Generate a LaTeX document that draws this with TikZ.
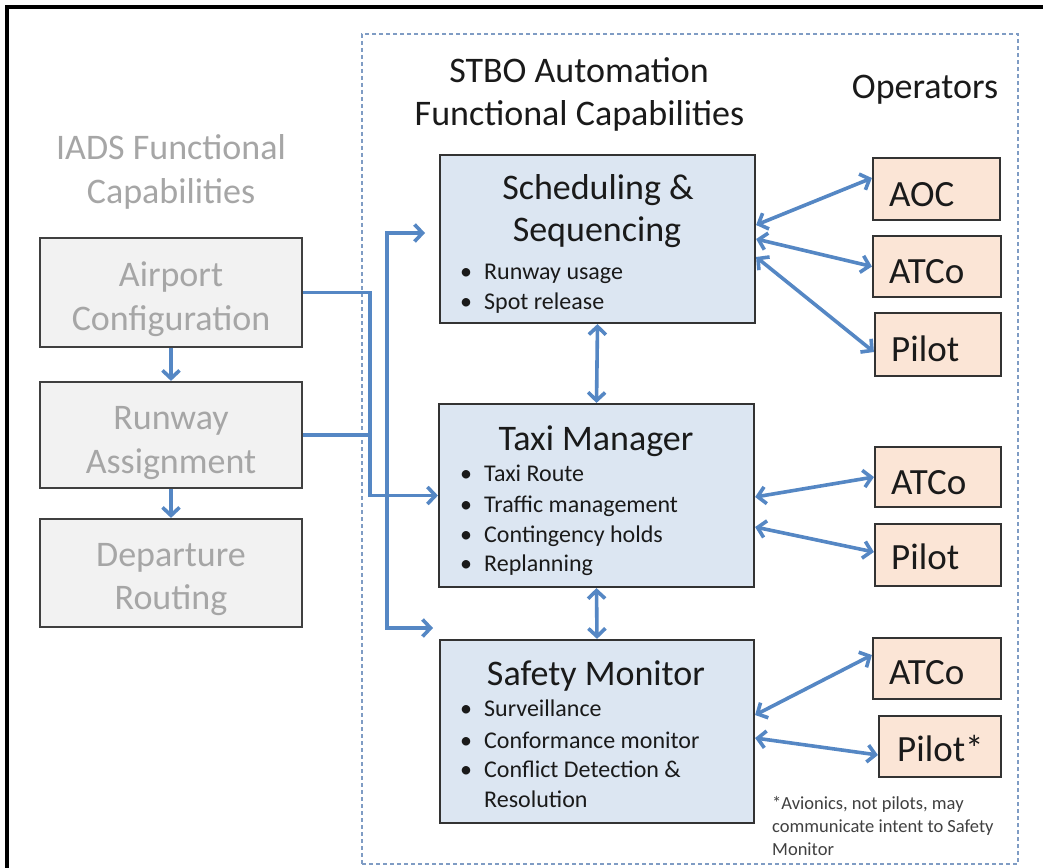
\documentclass[tikz,border=0pt]{standalone}
\usepackage{fontspec}
\setmainfont{Carlito}
\usetikzlibrary{arrows.meta}
\definecolor{arrowblue}{HTML}{5587C4}
\definecolor{boxblue}{HTML}{DCE6F2}
\definecolor{boxpeach}{HTML}{FBE5D6}
\definecolor{boxgray}{HTML}{F2F2F2}
\definecolor{txtgray}{HTML}{A6A6A6}
\definecolor{dashblue}{HTML}{7F9CC4}
\definecolor{txtdark}{HTML}{1A1A1A}
\begin{document}
\begin{tikzpicture}[x=1pt,y=-1pt,
  bigtxt/.style={font=\fontsize{36}{43}\selectfont, text=txtdark, inner sep=0pt},
  graytxt/.style={font=\fontsize{36}{43}\selectfont, text=txtgray, inner sep=0pt},
  bultxt/.style={font=\fontsize{24}{30}\selectfont, text=txtdark, inner sep=0pt, anchor=base west},
  notetxt/.style={font=\fontsize{18.5}{23}\selectfont, text=black!75, inner sep=0pt, anchor=base west},
  optxt/.style={font=\fontsize{37}{43}\selectfont, text=txtdark, inner sep=0pt, anchor=base west},
  bluebox/.style={draw=black!80, line width=2.2pt, fill=boxblue, inner sep=0pt},
  graybox/.style={draw=black!75, line width=2.2pt, fill=boxgray, inner sep=0pt, minimum width=262pt},
  opbox/.style={draw=black!80, line width=2.2pt, fill=boxpeach, inner sep=0pt},
  frame/.style={draw=dashblue, line width=1.4pt, dash pattern=on 4pt off 3pt, inner sep=0pt},
  arr/.style={draw=arrowblue, line width=3.6pt, -{Straight Barb[length=8pt,width=17pt]}},
  darr/.style={draw=arrowblue, line width=3.6pt, {Straight Barb[length=8pt,width=17pt]}-{Straight Barb[length=8pt,width=17pt]}}
]
\useasboundingbox (0,0) rectangle (1043,867);
\fill[white] (0,0) rectangle (1043,867);
% outer border (left and top)
\draw[line width=3.5pt, black] (7,900) -- (7,7) -- (1100,7);

% dashed container
\node[frame, minimum width=656pt, minimum height=830pt] (frm) at (690,449) {};

% left titles
\node[graytxt, anchor=base] (iads1) at (171,159) {IADS Functional};
\node[graytxt, anchor=base] (iads2) at (171,203) {Capabilities};

% gray boxes
\node[graybox, minimum height=109pt] (air) at (171,292.5) {};
\node[graybox, minimum height=106pt] (run) at (171,435) {};
\node[graybox, minimum height=108pt] (dep) at (171,573) {};
\node[graytxt, anchor=base] (air1) at (171,286) {Airport};
\node[graytxt, anchor=base] (air2) at (171,330) {Configuration};
\node[graytxt, anchor=base] (run1) at (171,429) {Runway};
\node[graytxt, anchor=base] (run2) at (171,473) {Assignment};
\node[graytxt, anchor=base] (dep1) at (171,566) {Departure};
\node[graytxt, anchor=base] (dep2) at (171,609) {Routing};

% middle titles
\node[bigtxt, anchor=base] (stbo1) at (579,82) {STBO Automation};
\node[bigtxt, anchor=base] (stbo2) at (579.5,125) {Functional Capabilities};
\node[bigtxt, anchor=base] (opers) at (925,98) {Operators};

% blue boxes
\node[bluebox, minimum width=315pt, minimum height=168pt] (ss) at (597.5,239) {};
\node[bluebox, minimum width=315pt, minimum height=183pt] (taxi) at (596.5,495.5) {};
\node[bluebox, minimum width=314pt, minimum height=183pt] (sm) at (597,731.5) {};

\node[bigtxt, anchor=base] (ss1) at (598,199) {Scheduling \&};
\node[bigtxt, anchor=base] (ss2) at (597,241) {Sequencing};
\node[bultxt] (ssb1) at (460,279) {\makebox[24pt][l]{•}Runway usage};
\node[bultxt] (ssb2) at (460,309) {\makebox[24pt][l]{•}Spot release};

\node[bigtxt, anchor=base] (tm1) at (596,450) {Taxi Manager};
\node[bultxt] (tmb1) at (460,481) {\makebox[24pt][l]{•}Taxi Route};
\node[bultxt] (tmb2) at (460,512) {\makebox[24pt][l]{•}Traffic management};
\node[bultxt] (tmb3) at (460,542) {\makebox[24pt][l]{•}Contingency holds};
\node[bultxt] (tmb4) at (460,571) {\makebox[24pt][l]{•}Replanning};

\node[bigtxt, anchor=base] (sm1) at (596,685) {Safety Monitor};
\node[bultxt] (smb1) at (460,716) {\makebox[24pt][l]{•}Surveillance};
\node[bultxt] (smb2) at (460,748) {\makebox[24pt][l]{•}Conformance monitor};
\node[bultxt] (smb3) at (460,777) {\makebox[24pt][l]{•}Conflict Detection \&};
\node[bultxt] (smb4) at (484,807) {Resolution};

% operator boxes
\node[opbox, minimum width=127pt, minimum height=62pt] (aoc) at (936.5,189) {};
\node[opbox, minimum width=128pt, minimum height=61pt] (atc1) at (937,266.5) {};
\node[opbox, minimum width=126pt, minimum height=63pt] (pil1) at (938,344.5) {};
\node[opbox, minimum width=126pt, minimum height=60pt] (atc2) at (938,477) {};
\node[opbox, minimum width=126pt, minimum height=62pt] (pil2) at (938,555) {};
\node[opbox, minimum width=128pt, minimum height=61pt] (atc3) at (937,668.5) {};
\node[opbox, minimum width=122pt, minimum height=61pt] (pil3) at (940,746.5) {};

\node[optxt] (aoct) at (889,206) {AOC};
\node[optxt] (atc1t) at (889,283) {ATCo};
\node[optxt] (pil1t) at (891,361) {Pilot};
\node[optxt] (atc2t) at (891,494) {ATCo};
\node[optxt] (pil2t) at (891,569) {Pilot};
\node[optxt] (atc3t) at (889,684) {ATCo};
\node[optxt] (pil3t) at (897,761) {Pilot*};

% footnote
\node[notetxt] (fn1) at (772,809) {*Avionics, not pilots, may};
\node[notetxt] (fn2) at (772,832) {communicate intent to Safety};
\node[notetxt] (fn3) at (772,855) {Monitor};

% left column arrows
\draw[arr] (air.south) -- (run.north);
\draw[arr] (run.south) -- (dep.north);

% bus lines
\coordinate (busA) at (370,300);
\coordinate (busB) at (387,430);
\coordinate (tipS) at (425,233);
\coordinate (tipM) at (433,628);
\draw[arrowblue, line width=3.6pt] (run.east) -- (run.east -| busA);
\draw[arr] (air.east) -| (busA |- taxi.west) -- (taxi.west);
\draw[arr] (busB) |- (tipS);
\draw[arr] (busB) |- (tipM);

% vertical double arrows
\draw[darr] (ss.south) -- (taxi.north);
\draw[darr] (taxi.south) -- (sm.north);

% operator arrows
\draw[darr] ([yshift=14pt]ss.east) -- ([yshift=11pt]aoc.west);
\draw[darr] (ss.east) -- (atc1.west);
\draw[darr] ([yshift=-18pt]ss.east) -- ([yshift=-7.5pt]pil1.west);
\draw[darr] ([yshift=-1.5pt]taxi.east) -- (atc2.west);
\draw[darr] ([yshift=-31.5pt]taxi.east) -- ([yshift=3pt]pil2.west);
\draw[darr] ([yshift=16.5pt]sm.east) -- ([yshift=13.5pt]atc3.west);
\draw[darr] ([yshift=-6.5pt]sm.east) -- ([yshift=-8.5pt]pil3.west);
\end{tikzpicture}
\end{document}
